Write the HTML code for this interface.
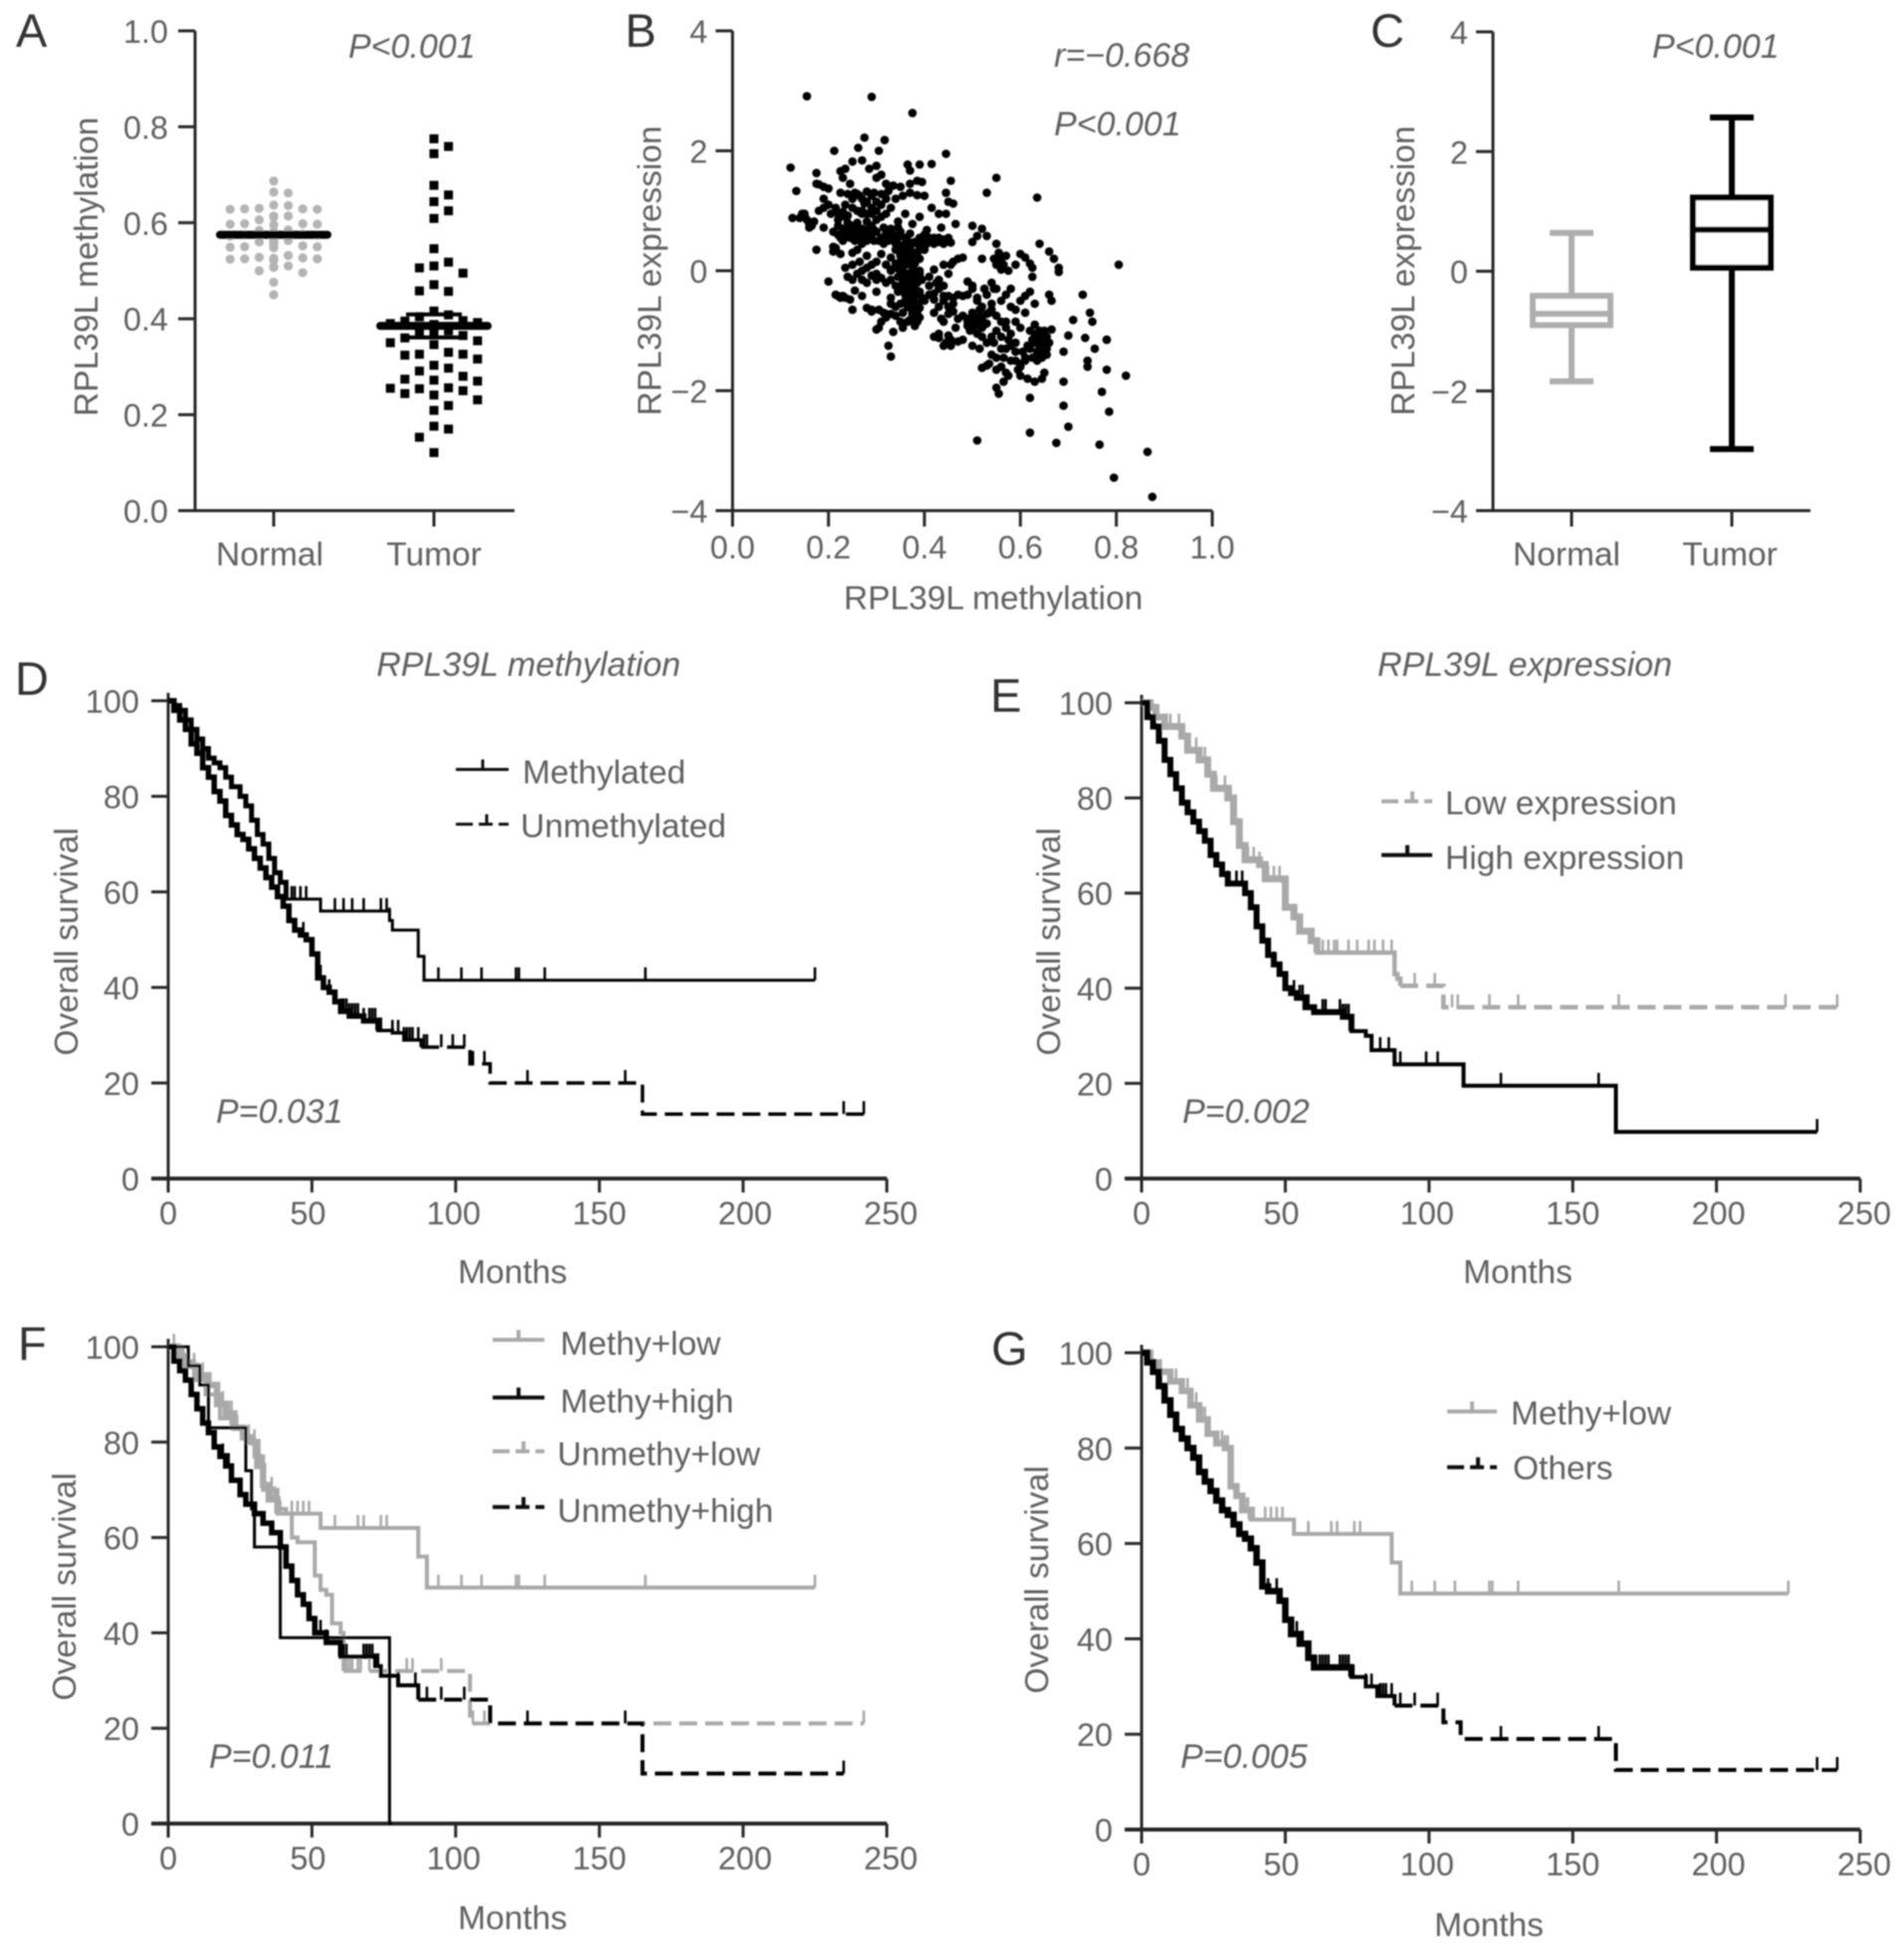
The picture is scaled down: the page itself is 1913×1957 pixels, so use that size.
<!DOCTYPE html>
<html lang="en">
<head>
<meta charset="utf-8">
<title>RPL39L methylation and expression figure</title>
<style>
html,body{margin:0;padding:0;background:#fff;width:1913px;height:1957px;overflow:hidden}
svg{display:block}
text{font-family:"Liberation Sans",sans-serif;fill:#5e5e5e;font-size:33.5px}
.letter{font-size:47px;fill:#333}
.ital{font-style:italic;font-size:34px}
.tick{font-size:32.5px}
</style>
</head>
<body>
<svg id="figure" xmlns="http://www.w3.org/2000/svg" width="1913" height="1957" viewBox="0 0 1913 1957">
<defs><filter id="soft" x="-2%" y="-2%" width="104%" height="104%"><feGaussianBlur stdDeviation="0.7"/></filter></defs>
<rect width="1913" height="1957" fill="#fff"/>
<g filter="url(#soft)">

<g id="panelA">
  <text class="letter" x="16" y="47">A</text>
  <text class="ital" x="350" y="58">P&lt;0.001</text>
  <text transform="translate(98,268) rotate(-90)" text-anchor="middle">RPL39L methylation</text>
</g>
<g id="panelB">
  <text class="letter" x="628" y="47">B</text>
  <text class="ital" x="1059" y="67">r=−0.668</text>
  <text class="ital" x="1059" y="136">P&lt;0.001</text>
  <text transform="translate(664,272) rotate(-90)" text-anchor="middle">RPL39L expression</text>
  <text x="998" y="612" text-anchor="middle">RPL39L methylation</text>
</g>
<g id="panelC">
  <text class="letter" x="1377" y="47">C</text>
  <text class="ital" x="1660" y="58">P&lt;0.001</text>
  <text transform="translate(1421,272) rotate(-90)" text-anchor="middle">RPL39L expression</text>
</g>

<g id="panelD">
  <text class="letter" x="15" y="698">D</text>
  <text class="ital" x="531" y="679" text-anchor="middle">RPL39L methylation</text>
  <text class="ital" x="217" y="1128">P=0.031</text>
  <text transform="translate(78,946) rotate(-90)" text-anchor="middle">Overall survival</text>
  <text x="515" y="1289" text-anchor="middle">Months</text>
  <g>
    <g>
      <path d="M458 773H511M485 773V763" stroke="#111" stroke-width="3" fill="none"/>
      <text x="525" y="787">Methylated</text>
    </g>
    <g>
      <path d="M458 828H475M481 828H495M489 828V818M501 828H511" stroke="#111" stroke-width="3" fill="none"/>
      <text x="523" y="841">Unmethylated</text>
    </g>
  </g>
</g>

<g id="panelE">
  <text class="letter" x="995" y="715">E</text>
  <text class="ital" x="1532" y="679" text-anchor="middle">RPL39L expression</text>
  <text class="ital" x="1188" y="1128">P=0.002</text>
  <text transform="translate(1065,946) rotate(-90)" text-anchor="middle">Overall survival</text>
  <text x="1525" y="1289" text-anchor="middle">Months</text>
  <g>
    <g>
      <path d="M1388 805H1405M1411 805H1425M1419 805V795M1431 805H1439" stroke="#aaa" stroke-width="4" fill="none"/>
      <text x="1452" y="818">Low expression</text>
    </g>
    <g>
      <path d="M1388 859H1439M1414 859V849" stroke="#111" stroke-width="4" fill="none"/>
      <text x="1452" y="873">High expression</text>
    </g>
  </g>
</g>

<g id="panelF">
  <text class="letter" x="18" y="1366">F</text>
  <text class="ital" x="210" y="1776">P=0.011</text>
  <text transform="translate(76,1594) rotate(-90)" text-anchor="middle">Overall survival</text>
  <text x="515" y="1938" text-anchor="middle">Months</text>
  <g>
    <g>
      <path d="M495 1346H547M521 1346V1336" stroke="#aaa" stroke-width="4" fill="none"/>
      <text x="563" y="1361">Methy+low</text>
    </g>
    <g>
      <path d="M495 1404H547M521 1404V1394" stroke="#111" stroke-width="4" fill="none"/>
      <text x="563" y="1419">Methy+high</text>
    </g>
    <g>
      <path d="M495 1458H512M518 1458H532M526 1458V1448M538 1458H547" stroke="#aaa" stroke-width="4" fill="none"/>
      <text x="560" y="1472">Unmethy+low</text>
    </g>
    <g>
      <path d="M495 1514H512M518 1514H532M526 1514V1504M538 1514H547" stroke="#111" stroke-width="4" fill="none"/>
      <text x="560" y="1529">Unmethy+high</text>
    </g>
  </g>
</g>

<g id="panelG">
  <text class="letter" x="996" y="1371">G</text>
  <text class="ital" x="1186" y="1776">P=0.005</text>
  <text transform="translate(1053,1587) rotate(-90)" text-anchor="middle">Overall survival</text>
  <text x="1496" y="1945" text-anchor="middle">Months</text>
  <g>
    <g>
      <path d="M1454 1418H1504M1479 1418V1408" stroke="#aaa" stroke-width="4" fill="none"/>
      <text x="1518" y="1431">Methy+low</text>
    </g>
    <g>
      <path d="M1454 1474H1471M1477 1474H1491M1485 1474V1464M1497 1474H1504" stroke="#111" stroke-width="4" fill="none"/>
      <text x="1520" y="1486">Others</text>
    </g>
  </g>
</g>
</g>
</svg>

<script>
/* ---------- Panel A data ---------- */
const swarmCategories = ["Normal", "Tumor"];
const swarmYTicks = [0, 0.2, 0.4, 0.6, 0.8, 1];
const normalMethylation = [.687,.664,.662,.637,.636,.63,.629,.629,.628,.628,.614,.614,.613,.612,.606,.598,.598,.597,.597,.596,.585,.584,.582,.58,.578,.576,.575,.574,.572,.57,.565,.563,.562,.56,.56,.558,.557,.556,.555,.552,.55,.55,.549,.548,.532,.528,.527,.526,.525,.525,.524,.522,.51,.508,.507,.5,.496,.476,.45];
const normalMean = [.575];
const tumorMethylation = [.775,.759,.744,.678,.658,.644,.625,.609,.546,.518,.51,.506,.495,.471,.457,.458,.416,.408,.404,.396,.395,.392,.39,.388,.385,.38,.378,.375,.372,.37,.368,.367,.365,.36,.354,.35,.346,.33,.326,.326,.324,.316,.303,.297,.291,.28,.274,.272,.27,.256,.254,.255,.25,.244,.241,.231,.219,.209,.176,.17,.153,.121];
const tumorMean = [.385];
const tumorError = [.024];

/* ---------- Panel B data ---------- */
const scatterXTicks = [0, 0.2, 0.4, 0.6, 0.8, 1];
const scatterYTicks = [-4, -2, 0, 2, 4];
const methylationValues = [
.155,.29,.375,.275,.317,.212,.262,.305,.445,.121,.175,.235,.25,.27,.285,.3,.365,.39,.415,.37,
.3,.455,.55,.53,.635,.133,.175,.19,.2,.18,.31,.32,.245,.225,.23,.37,.385,.395,.335,.35,
.125,.14,.145,.15,.155,.16,.16,.165,.17,.19,.19,.2,.205,.19,.175,.15,.18,.22,.235,.215,
.225,.24,.255,.265,.28,.295,.31,.325,.34,.355,.37,.385,.4,.415,.43,.445,.45,.46,.445,.465,
.22,.23,.24,.25,.26,.27,.28,.29,.3,.31,.32,.33,.345,.36,.375,.39,.405,.42,.435,.22,
.235,.25,.265,.275,.29,.3,.315,.33,.35,.36,.37,.38,.39,.4,.41,.42,.43,.44,.45,.455,
.3,.31,.32,.33,.34,.35,.36,.37,.38,.39,.34,.35,.36,.37,.38,.39,.33,.34,.35,.36,
.235,.25,.265,.24,.25,.26,.27,.28,.29,.3,.27,.28,.29,.3,.31,.32,.33,.28,.26,.25,
.21,.215,.225,.215,.22,.225,.23,.245,.2,.21,.215,.235,.255,.27,.29,.305,.315,.33,.345,.36,
.25,.28,.29,.3,.305,.32,.33,.34,.35,.355,.365,.38,.385,.31,.32,.335,.355,.3,.325,.33,
.365,.37,.375,.38,.385,.37,.375,.38,.385,.39,.37,.375,.38,.385,.39,.395,.4,.41,.42,.43,
.41,.42,.43,.44,.45,.46,.47,.48,.49,.42,.43,.44,.45,.46,.47,.48,.41,.425,.44,.455,
.42,.435,.44,.45,.46,.47,.48,.49,.5,.51,.42,.43,.445,.455,.47,.48,.495,.505,.52,.53,
.43,.44,.45,.455,.465,.5,.51,.52,.53,.54,.49,.5,.51,.52,.535,.545,.5,.515,.525,.54,
.5,.51,.5,.52,.53,.52,.55,.555,.56,.565,.57,.545,.55,.56,.575,.59,.6,.61,.62,.625,
.54,.55,.56,.57,.58,.59,.6,.61,.62,.63,.55,.56,.57,.58,.59,.6,.61,.62,.63,.625,
.5,.515,.52,.53,.535,.55,.56,.565,.575,.59,.6,.61,.62,.63,.64,.65,.655,.66,.645,.635,
.64,.645,.65,.655,.635,.625,.615,.605,.595,.58,.57,.555,.55,.565,.575,.6,.615,.63,.65,.645,
.62,.64,.66,.67,.68,.68,.665,.66,.71,.73,.745,.75,.7,.735,.755,.74,.74,.78,.82,.69,
.69,.69,.77,.78,.785,.7,.51,.62,.675,.765,.865,.795,.875,.805,.78,.665,
.225,.23,.24,.25,.255,.26,.27,.28,.285,.295,.34,.345,.35,.355,.36,.365,.37,.38,.39,.4,
.23,.24,.245,.255,.265,.27,.28,.29,.235,.25,.26,.275,.285,.295,.305,.315,.325,.335,.345,.27,
.33,.34,.345,.35,.355,.36,.365,.37,.375,.38,.385,.39,.395,.34,.35,.355,.36,.37,.375,.385,
.395,.4,.405,.41,.415,.42,.425,.43,.44,.45,.38,.39,.365,.37,.38,.39,.36,.35,.33,.34,
.49,.5,.505,.51,.515,.52,.525,.53,.49,.5,.51,.52,.53,.54,.545,.55,.56,.57,.58,.59,
.63,.635,.64,.645,.65,.655,.64,.65,.625,.61,.6,.59,.58,.57,.56,.55,.54,.44,.45,.46,
.26,.27,.28,.25,.26,.27,.29,.3,.31,.32,.33,.28,.29,.3,.31,.32,.21,.22,.23,.24
];
const expressionValues = [
2.91,2.9,2.63,2.22,2.18,2.0,2.05,2.0,1.95,1.72,1.63,1.7,1.82,1.84,1.7,1.75,1.77,1.77,1.78,1.67,
1.55,1.5,1.55,1.3,1.22,1.33,1.45,1.4,1.37,1.44,1.6,1.45,1.45,1.66,1.55,1.45,1.5,1.48,1.42,1.4,
.88,.88,.95,.92,.85,.78,.72,.75,.82,1.2,1.05,1.1,.95,.72,.35,.95,1.0,.95,.9,1.05,
1.3,1.28,1.3,1.25,1.32,1.3,1.28,1.33,1.2,1.25,1.3,1.26,1.25,1.05,.95,1.3,1.15,1.12,.95,.78,
.75,.65,.8,.6,.72,.95,.82,.6,.85,.55,.62,.7,.82,.95,.78,.9,.68,.55,.72,.6,
1.1,1.05,.98,1.12,1.05,.65,.72,.52,.65,.55,.62,.48,.55,.6,.48,.52,.48,.45,.5,.47,
.15,.28,.1,.22,.35,.05,.3,.4,.12,.35,.05,-.05,.18,.1,-.02,.2,-.15,.12,.25,-.12,
.05,.1,.15,-.1,-.15,-.05,0,.05,.1,-.05,-.15,-.2,-.08,-.15,-.12,-.2,.02,.25,.35,.3,
.4,.35,.28,-.4,-.42,-.45,-.42,-.48,-.18,.32,.38,-.45,-.33,-.42,-.65,-.65,-.7,-.45,-.35,-.3,
-.65,-.62,-.68,-.35,-.95,-.78,-.72,-.75,-.85,-.95,-.85,-.88,-.85,-.85,-.72,-1.02,-.7,-.98,-1.25,-1.43,
-.2,-.35,-.5,-.65,-.72,-.15,-.3,-.42,-.55,-.35,-.62,-.72,-.1,-.2,-.05,-.45,-.5,-.4,-.48,-.6,
-.1,.02,-.15,.1,-.05,.15,.2,.22,-.4,-.38,-.3,-.42,-.42,-.45,-.4,-.42,-.25,-.2,-.25,.1,
-.7,-.8,-.85,-.72,-.68,-.8,-.75,-.85,-.7,-.78,-1.1,-1.12,-1.2,-1.25,-1.18,-1.15,-1.0,-.92,-.95,-.88,
-1.05,-1.25,-1.08,-1.15,-.95,-.3,-.5,-.6,-.4,-.55,-.18,-.25,-.45,-.82,-.7,-.3,-.85,-.65,-.3,-.65,
.48,.58,.75,.7,.58,.2,.45,.3,.2,.1,.25,.2,.1,.02,0,.1,.28,.22,.12,.05,
-.2,-.3,-.5,-.4,-.3,-.65,-.5,-.42,-.35,-.55,-.75,-.85,-.95,-.6,-.85,-.95,-.7,-1.0,-.9,-.1,
-1.25,-1.3,-1.62,-1.58,-1.55,-1.45,-1.3,-1.45,-1.15,-1.5,-1.6,-1.45,-1.3,-1.2,-1.1,-1.0,-1.3,-1.2,-1.45,-1.5,
-1.0,-1.15,-1.25,-1.4,-1.35,-1.15,-1.25,-1.35,-1.65,-1.5,-1.7,-2.05,-1.95,-1.85,-1.75,-1.75,-1.8,-1.85,-1.7,-1.8,
-2.12,.45,.32,.2,.05,-.02,-.5,-.4,-.82,-.4,-.7,-.85,-1.08,-1.12,-1.3,-1.5,-1.6,-1.65,-1.75,-1.35,
-1.85,-2.25,-2.02,-1.15,-2.35,-2.6,-2.83,-2.7,-2.87,-2.9,-3.02,-3.45,-3.77,.1,-1.15,-.98,
.55,.5,.62,.55,.5,.62,.55,.5,.65,.5,.45,.55,.42,.35,.45,.5,.25,.3,.42,.35,
.7,.7,.55,.68,.62,.7,.68,.75,.6,.75,.8,.6,.55,.68,.5,.45,.5,.6,.72,.45,
0,.05,-.1,.15,0,.1,-.05,.2,.05,-.25,.25,0,-.15,-.25,-.3,-.2,-.4,-.45,.3,.45,
.5,.53,.45,.55,.5,.45,.5,.55,.52,.55,-.78,-.62,-.6,-.82,-.92,-.78,-.5,-.55,-.55,-.6,
-.8,-.75,-.9,-.88,-.82,-.78,-.9,-.72,-.92,-.95,-1.05,-1.1,-1.2,-1.1,-1.2,-1.0,-1.1,-.85,-1.05,-1.2,
-1.05,-1.2,-1.3,-1.05,-1.15,-1.1,-1.4,-1.35,-1.45,-1.5,-1.55,-1.35,-1.25,-1.3,-1.6,-1.65,-1.4,-.5,-.6,-.55,
1.0,1.2,1.15,1.2,1.28,1.0,1.25,1.15,1.1,1.2,1.05,.95,.95,1.0,.9,.95,.65,.85,.98,.92
];

/* ---------- Panel C data ---------- */
const boxCategories = ["Normal", "Tumor"];
const boxYTicks = [-4, -2, 0, 2, 4];
const normalBox = [-1.84, -0.9, -0.71, -0.41, 0.64];
const tumorBox = [-2.97, 0.06, 0.695, 1.23, 2.57];

/* ---------- Survival axes ---------- */
const monthTicks = [0, 50, 100, 150, 200, 250];
const survivalTicks = [0, 20, 40, 60, 80, 100];

/* ---------- Panel D data ---------- */
const dMethMonths = [0,2,4,6,8,10,12,14,16,18,20,22,25,27,29,31,33,35,37,39,41,53,77,78,87,89,225];
const dMethSurvival = [100,99,98,96,94,92,90,88,87,86,84,82,80,78,75,72,70,67,64,62,58.5,56,54,52,46.5,41.5,41.5];
const dMethCensored = [43,44,46,48,58,61,64,68,74,76,77,87,94,102,109,121,122,131,166,225];
const dUnmethMonths = [0,2,4,6,8,10,12,14,16,18,20,22,24,26,28,30,32,34,36,38,40,42,44,46,48,50,52,54,56,58,60,63,68,73,78,82,88,105,112,165,242];
const dUnmethSurvival = [100,98,96,94,91,89,86,84,81,79,76,74,72,71,69,67,65,63,61,59,57,54,52,51,50,47,42,40,39,37,35,34,33,31,30.5,29,27.5,24,20,13.5,13.5];
const dUnmethCensored = [47,50,53,56,60,61,62,63,64,65,66,68,70,71,72,73,74,78,80,82,83,84,85,87,89,90,95,99,103,106,110,125,159,235,242];

/* ---------- Panel E data ---------- */
const eLowMonths = [0,3,5,8,14,16,20,23,25,30,32,34,36,41,43,50,53,55,59,61,88,89,90,105,106,242];
const eLowSurvival = [100,99,97,95,93,90,88,85,82,80,75,70,67,66,63,57,55,52,50,47.5,43,42,40.5,36,36,36];
const eLowCensored = [5,10,13,16,19,22,26,29,31,37,39,41,44,46,48,50,61,63,65,67,68,72,75,79,81,84,87,88,95,102,108,110,121,131,166,224,242];
const eHighMonths = [0,2,4,6,8,10,12,14,16,18,20,22,24,26,28,30,32,36,38,40,42,44,46,48,50,52,54,57,60,70,73,78,80,88,112,165,235];
const eHighSurvival = [100,97,95,92,88,85,82,79,77,75,73,71,68,66,64,62,62,60,57,53,50,47,45,43,40,39,38,36,35,34,31,30,27,24,19.5,9.8,9.8];
const eHighCensored = [30,33,35,44,46,53,55,56,57,58,63,64,69,70,71,72,73,83,86,90,99,103,125,159,235];

/* ---------- Panel F data ---------- */
const fMethyLowMonths = [0,3,6,10,14,17,20,23,26,29,31,33,35,38,53,87,88,90,225];
const fMethyLowSurvival = [100,98,96,94,92,88,86,83,81,80,75,71,68,65,62,56,56,49.5,49.5];
const fMethyLowCensored = [2,4,6,9,12,14,19,20,21,22,24,28,30,32,36,37,38,39,43,45,47,49,58,66,68,74,76,87,94,102,109,121,122,131,166,225];
const fMethyHighMonths = [0,7,11,14,25,27,29,30,38,39,77,78];
const fMethyHighSurvival = [100,96,92,83,83,74,66,58,58,39,0,0];
const fMethyHighCensored = [];
const fUnmethyLowMonths = [0,5,9,13,18,22,27,30,33,38,41,43,45,50,51,53,55,57,60,61,105,106,242];
const fUnmethyLowSurvival = [100,97,93,90,85,83,80,77,70,66,65,60,59,59,52,49,48,42,40,32,21,21,21];
const fUnmethyLowCensored = [5,18,36,62,63,64,66,67,70,83,85,95,106,110,242];
const fUnmethyHighMonths = [0,2,4,6,8,10,12,14,16,18,20,22,25,27,30,33,36,39,41,43,45,47,49,51,55,60,65,72,74,78,80,87,105,112,165,166,235];
const fUnmethyHighSurvival = [100,97,95,93,90,87,84,82,79,77,75,72,69,67,65,63,61,58,54,51,48,46,43,40,38,35,35,33,31,31,29,26,26,21,10.5,10.5,10.5];
const fUnmethyHighCensored = [19,20,21,22,53,55,61,62,68,69,70,71,72,73,80,86,90,95,103,125,159,235];

/* ---------- Panel G data ---------- */
const gMethyLowMonths = [0,3,6,10,14,17,20,23,26,29,31,33,35,38,53,87,88,90,225];
const gMethyLowSurvival = [100,98,96,94,92,89,86,83,81,80,72,70,67,65,62,56,56,49.5,49.5];
const gMethyLowCensored = [12,14,16,19,20,21,22,28,29,30,36,37,38,39,43,45,47,49,58,66,68,74,76,87,94,102,109,121,122,131,166,225];
const gOthersMonths = [0,2,4,6,8,10,12,14,16,18,20,22,24,26,28,30,32,34,36,38,40,42,44,48,50,52,55,58,60,65,73,78,82,88,105,111,165,242];
const gOthersSurvival = [100,98,96,93,90,87,84,82,80,78,75,73,71,69,67,66,64,62,61,59,56,51,50,48,44,41,39,36,34,34,32,30,28,26,22.5,19,12.5,12.5];
const gOthersCensored = [44,47,54,56,60,62,63,64,65,69,70,71,72,73,78,80,83,84,85,87,90,95,103,125,159,235,242];

/* ---------- Helpers ---------- */
const SVG_NS = "http://www.w3.org/2000/svg";
function linear(d0, d1, r0, r1) {
  return v => r0 + (v - d0) * (r1 - r0) / (d1 - d0);
}
function addNode(parent, tag, name) {
  const el = document.createElementNS(SVG_NS, tag);
  
  
  parent.appendChild(el);
  return el;
}
function addLine(parent, name, x1, y1, x2, y2, color, width) {
  const el = addNode(parent, 'line', name);
  el.setAttribute('x1', x1);
  el.setAttribute('y1', y1);
  el.setAttribute('x2', x2);
  el.setAttribute('y2', y2);
  el.setAttribute('stroke', color);
  el.setAttribute('stroke-width', width);
  return el;
}
function addLabel(parent, name, x, y, anchor, str, cls) {
  const el = addNode(parent, 'text', name);
  el.setAttribute('x', x);
  el.setAttribute('y', y);
  el.setAttribute('text-anchor', anchor);
  if (cls) el.setAttribute('class', cls);
  el.textContent = str;
  return el;
}
function fmtSigned(v) { return v < 0 ? "\u2212" + Math.abs(v) : String(v); }
function drawAxes(panel, cfg) {
  const axisColor = "#262626";
  const g = addNode(panel, 'g', 'axes');
  addLine(g, 'y-axis-line', cfg.axisX, cfg.yTop, cfg.axisX, cfg.yBottom, axisColor, 3);
  addLine(g, 'x-axis-line', cfg.axisX - cfg.tickLen, cfg.yBottom, cfg.xRight, cfg.yBottom, axisColor, cfg.xAxisWidth || 3);
  cfg.yTicks.forEach(t => {
    const y = cfg.yScale(t);
    addLine(g, 'y-tick', cfg.axisX - cfg.tickLen, y, cfg.axisX, y, axisColor, 3);
    addLabel(g, 'y-tick-label', cfg.axisX - cfg.tickLen - cfg.yGap, y + 12, 'end', cfg.yFmt(t), 'tick');
  });
  cfg.xTicks.forEach(t => {
    const x = cfg.xScale(t);
    addLine(g, 'x-tick', x, cfg.yBottom, x, cfg.yBottom + cfg.xTickLen, axisColor, 3);
    addLabel(g, 'x-tick-label', x + cfg.xLabelShift(t), cfg.xLabelY, 'middle', cfg.xFmt(t), cfg.xLabelClass || 'tick');
  });
}

/* ---------- Panel A: dot plots ---------- */
(function () {
  const panel = document.getElementById('panelA');
  const yA = linear(0, 1, 513, 31);
  const xA = i => [275, 436][i];
  drawAxes(panel, {
    axisX: 196, yTop: 31, yBottom: 513, xRight: 517, tickLen: 17, yGap: 10, xTickLen: 16,
    yScale: yA, xScale: xA, yTicks: swarmYTicks, xTicks: [0, 1], xLabelY: 568, xLabelShift: i => i ? 0 : -4, xLabelClass: 'cat',
    yFmt: t => t.toFixed(1), xFmt: i => swarmCategories[i]
  });
  const step = 14.6;
  const order = [0, 1, -1, 2, -2, 3, -3];
  function layout(values, minGap) {
    const used = {};
    return values.map(v => {
      let chosen = order[0];
      for (const c of order) {
        if (!used[c] || used[c].every(u => Math.abs(u - v) >= minGap)) { chosen = c; break; }
      }
      (used[chosen] = used[chosen] || []).push(v);
      return chosen;
    });
  }
  const normalCols = layout(normalMethylation, 0.022);
  const nG = addNode(panel, 'g', 'normal-points');
  normalMethylation.forEach((v, i) => {
    const c = addNode(nG, 'circle', 'normal-point');
    c.setAttribute('cx', xA(0) + normalCols[i] * step);
    c.setAttribute('cy', yA(v));
    c.setAttribute('r', 4.6);
    c.setAttribute('fill', '#b4b4b4');
  });
  const tumorCols = layout(tumorMethylation, 0.03);
  const tG = addNode(panel, 'g', 'tumor-points');
  tumorMethylation.forEach((v, i) => {
    const r = addNode(tG, 'rect', 'tumor-point');
    r.setAttribute('x', xA(1) + tumorCols[i] * step - 4.5);
    r.setAttribute('y', yA(v) - 4.5);
    r.setAttribute('width', 9);
    r.setAttribute('height', 9);
    r.setAttribute('fill', '#000');
  });
  const m1 = addLine(panel, 'normal-mean-line', xA(0) - 54, yA(normalMean[0]), xA(0) + 54, yA(normalMean[0]), '#000', 8);
  m1.setAttribute('stroke-linecap', 'round');
  const m2 = addLine(panel, 'tumor-mean-line', xA(1) - 54, yA(tumorMean[0]), xA(1) + 54, yA(tumorMean[0]), '#000', 8);
  m2.setAttribute('stroke-linecap', 'round');
  addLine(panel, 'tumor-error-upper', xA(1) - 28, yA(tumorMean[0] + tumorError[0]), xA(1) + 28, yA(tumorMean[0] + tumorError[0]), '#000', 4);
  addLine(panel, 'tumor-error-lower', xA(1) - 28, yA(tumorMean[0] - tumorError[0]), xA(1) + 28, yA(tumorMean[0] - tumorError[0]), '#000', 4);
})();

/* ---------- Panel B: scatter ---------- */
(function () {
  const panel = document.getElementById('panelB');
  const xB = linear(0, 1, 736, 1218);
  const yB = linear(-4, 4, 513, 31);
  drawAxes(panel, {
    axisX: 736, yTop: 31, yBottom: 513, xRight: 1218, tickLen: 17, yGap: 8, xTickLen: 16,
    yScale: yB, xScale: xB, yTicks: scatterYTicks, xTicks: scatterXTicks, xLabelY: 561, xLabelShift: () => 0,
    yFmt: fmtSigned, xFmt: t => t.toFixed(1)
  });
  const g = addNode(panel, 'g', 'scatter-points');
  const n = Math.min(methylationValues.length, expressionValues.length);
  for (let i = 0; i < n; i++) {
    const c = addNode(g, 'circle', 'scatter-point');
    c.setAttribute('cx', xB(methylationValues[i]));
    c.setAttribute('cy', yB(expressionValues[i]));
    c.setAttribute('r', 4.3);
    c.setAttribute('fill', '#000');
  }
})();

/* ---------- Panel C: box plots ---------- */
(function () {
  const panel = document.getElementById('panelC');
  const yC = linear(-4, 4, 513, 32);
  const xC = i => [1579, 1740][i];
  drawAxes(panel, {
    axisX: 1500, yTop: 32, yBottom: 513, xRight: 1819, tickLen: 17, yGap: 8, xTickLen: 16,
    yScale: yC, xScale: xC, yTicks: boxYTicks, xTicks: [0, 1], xLabelY: 568, xLabelShift: i => i ? -2 : -5, xLabelClass: 'cat',
    yFmt: fmtSigned, xFmt: i => boxCategories[i]
  });
  function drawBox(stats, idx, color, label) {
    const g = addNode(panel, 'g', label + '-box-plot');
    const cx = xC(idx), lo = yC(stats[0]), q1 = yC(stats[1]), med = yC(stats[2]), q3 = yC(stats[3]), hi = yC(stats[4]);
    const boxHalf = 39, capHalf = 22, w = 6;
    addLine(g, label + '-whisker-upper', cx, hi, cx, q3, color, w);
    addLine(g, label + '-whisker-lower', cx, q1, cx, lo, color, w);
    addLine(g, label + '-cap-upper', cx - capHalf, hi, cx + capHalf, hi, color, w);
    addLine(g, label + '-cap-lower', cx - capHalf, lo, cx + capHalf, lo, color, w);
    const r = addNode(g, 'rect', label + '-box');
    r.setAttribute('x', cx - boxHalf);
    r.setAttribute('y', q3);
    r.setAttribute('width', boxHalf * 2);
    r.setAttribute('height', q1 - q3);
    r.setAttribute('fill', '#fff');
    r.setAttribute('stroke', color);
    r.setAttribute('stroke-width', w);
    addLine(g, label + '-median', cx - boxHalf, med, cx + boxHalf, med, color, w);
  }
  drawBox(normalBox, 0, '#aeaeae', 'normal');
  drawBox(tumorBox, 1, '#000', 'tumor');
})();

/* ---------- Survival panels ---------- */
function survivalAt(months, surv, t) {
  let s = surv[0];
  for (let i = 0; i < months.length; i++) { if (months[i] <= t) s = surv[i]; }
  return s;
}
function drawCurve(panel, name, months, surv, censored, xS, yS, style) {
  const g = addNode(panel, 'g', name + '-curve');
  const n = Math.min(months.length, surv.length);
  let solid = 'M' + xS(months[0]) + ' ' + yS(surv[0]);
  let dashed = '';
  let thick = 'M' + xS(months[0]) + ' ' + yS(surv[0]);
  let prevSurv = surv[0];
  for (let i = 1; i < n; i++) {
    const x = xS(months[i]), y = yS(surv[i]);
    if (style.thickUntil !== undefined && months[i] <= style.thickUntil) thick += 'H' + x + 'V' + y;
    if (style.dashAfter !== undefined && months[i - 1] >= style.dashAfter) {
      if (!dashed) dashed = 'M' + xS(months[i - 1]) + ' ' + yS(prevSurv);
      dashed += 'H' + x + 'V' + y;
    } else {
      solid += 'H' + x + 'V' + y;
    }
    prevSurv = surv[i];
  }
  const p = addNode(g, 'path', name + '-line');
  p.setAttribute('d', solid);
  p.setAttribute('fill', 'none');
  p.setAttribute('stroke', style.color);
  p.setAttribute('stroke-width', style.width);
  if (style.thickUntil !== undefined) {
    const t = addNode(g, 'path', name + '-line-dense');
    t.setAttribute('d', thick);
    t.setAttribute('fill', 'none');
    t.setAttribute('stroke', style.color);
    t.setAttribute('stroke-width', style.thickWidth);
  }
  if (dashed) {
    const q = addNode(g, 'path', name + '-line-dashed');
    q.setAttribute('d', dashed);
    q.setAttribute('fill', 'none');
    q.setAttribute('stroke', style.color);
    q.setAttribute('stroke-width', style.width);
    q.setAttribute('stroke-dasharray', '18 8');
  }
  censored.forEach(t => {
    const v = survivalAt(months, surv, t);
    addLine(g, name + '-censor-mark', xS(t), yS(v), xS(t), yS(v) - 13, style.color, 2.6);
  });
}
function drawSurvivalPanel(id, box, series) {
  const panel = document.getElementById(id);
  const xS = linear(0, 250, box.x0, box.x1);
  const yS = linear(0, 100, box.y0, box.y100);
  drawAxes(panel, {
    axisX: box.x0, yTop: box.y100 - 8, yBottom: box.y0, xRight: box.x1, tickLen: 17, yGap: 12, xTickLen: 14,
    yScale: yS, xScale: xS, yTicks: survivalTicks, xTicks: monthTicks, xLabelY: box.y0 + 46,
    xLabelShift: t => t === 0 ? 0 : (t - 150) * 0.04, xFmt: String, yFmt: String, xAxisWidth: 4
  });
  series.forEach(s => drawCurve(panel, s.name, s.months, s.survival, s.censored, xS, yS, s.style));
}
drawSurvivalPanel('panelD', { x0: 169, x1: 891, y0: 1184, y100: 704 }, [
  { name: 'methylated', months: dMethMonths, survival: dMethSurvival, censored: dMethCensored, style: { color: '#000', width: 3, thickUntil: 41, thickWidth: 5 } },
  { name: 'unmethylated', months: dUnmethMonths, survival: dUnmethSurvival, censored: dUnmethCensored, style: { color: '#000', width: 3.5, dashAfter: 88, thickUntil: 73, thickWidth: 5.5 } }
]);
drawSurvivalPanel('panelE', { x0: 1147, x1: 1869, y0: 1184, y100: 706 }, [
  { name: 'low-expression', months: eLowMonths, survival: eLowSurvival, censored: eLowCensored, style: { color: '#a9a9a9', width: 4.5, dashAfter: 90, thickUntil: 61, thickWidth: 7 } },
  { name: 'high-expression', months: eHighMonths, survival: eHighSurvival, censored: eHighCensored, style: { color: '#000', width: 4, thickUntil: 73, thickWidth: 6 } }
]);
drawSurvivalPanel('panelF', { x0: 169, x1: 891, y0: 1832, y100: 1353 }, [
  { name: 'methy-low', months: fMethyLowMonths, survival: fMethyLowSurvival, censored: fMethyLowCensored, style: { color: '#a9a9a9', width: 4, thickUntil: 38, thickWidth: 6.5 } },
  { name: 'unmethy-low', months: fUnmethyLowMonths, survival: fUnmethyLowSurvival, censored: fUnmethyLowCensored, style: { color: '#a9a9a9', width: 4, dashAfter: 61 } },
  { name: 'methy-high', months: fMethyHighMonths, survival: fMethyHighSurvival, censored: fMethyHighCensored, style: { color: '#000', width: 3 } },
  { name: 'unmethy-high', months: fUnmethyHighMonths, survival: fUnmethyHighSurvival, censored: fUnmethyHighCensored, style: { color: '#000', width: 4, dashAfter: 87, thickUntil: 60, thickWidth: 5.5 } }
]);
drawSurvivalPanel('panelG', { x0: 1147, x1: 1869, y0: 1838, y100: 1359 }, [
  { name: 'methy-low-g', months: gMethyLowMonths, survival: gMethyLowSurvival, censored: gMethyLowCensored, style: { color: '#a9a9a9', width: 4, thickUntil: 38, thickWidth: 6.5 } },
  { name: 'others', months: gOthersMonths, survival: gOthersSurvival, censored: gOthersCensored, style: { color: '#000', width: 4, dashAfter: 88, thickUntil: 73, thickWidth: 6.5 } }
]);
</script>
</body>
</html>
